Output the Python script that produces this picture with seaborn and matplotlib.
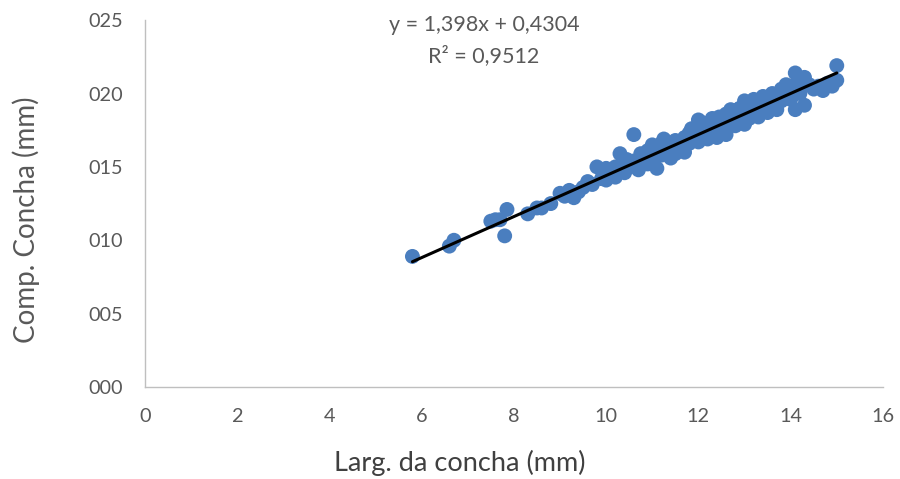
import matplotlib
matplotlib.use("Agg")
import matplotlib.pyplot as plt
from matplotlib.ticker import FuncFormatter
import numpy as np
import pandas as pd
import seaborn as sns

# Shell width (mm) and shell length (mm) for each specimen
largura = [
    5.8, 6.6, 6.7, 7.5, 7.6, 7.7, 7.8, 7.85, 8.3, 8.5, 8.6, 8.8,
    9.0, 9.1, 9.2, 9.3, 9.4, 9.5, 9.6, 9.7, 9.8, 9.9, 10.0, 10.0,
    10.1, 10.2, 10.2, 10.3, 10.4, 10.5, 10.6, 10.6, 10.7, 10.8, 10.9, 10.9,
    11.0, 11.0, 11.1, 11.1, 11.2, 11.2, 11.3, 11.4, 11.4, 11.5, 11.5, 11.6,
    11.7, 11.7, 11.8, 11.8, 11.9, 12.0, 12.0, 12.0, 12.1, 12.1, 12.2, 12.2,
    12.3, 12.3, 12.4, 12.4, 12.5, 12.5, 12.6, 12.6, 12.7, 12.7, 12.8, 12.8,
    12.9, 12.9, 13.0, 13.0, 13.0, 13.1, 13.1, 13.2, 13.2, 13.3, 13.3, 13.4,
    13.4, 13.5, 13.5, 13.6, 13.6, 13.7, 13.7, 13.8, 13.8, 13.9, 13.9, 14.0,
    14.0, 14.1, 14.1, 14.1, 14.2, 14.2, 14.3, 14.3, 14.4, 14.5, 14.6, 14.7,
    14.8, 14.9, 15.0, 15.0,
    10.45, 10.75, 11.25, 11.55, 11.85, 12.15, 12.45, 12.75, 13.05, 13.35,
    13.65, 13.95, 12.25, 12.55, 12.85, 13.15,
]
comprimento = [
    8.9, 9.6, 10.0, 11.3, 11.4, 11.4, 10.3, 12.1, 11.8, 12.2, 12.2, 12.5,
    13.2, 13.0, 13.4, 12.9, 13.3, 13.6, 14.0, 13.8, 15.0, 14.2, 14.9, 14.1,
    14.5, 14.3, 15.0, 15.9, 14.6, 15.0, 17.2, 15.4, 14.8, 15.6, 16.1, 15.2,
    16.5, 15.5, 14.9, 16.2, 15.8, 16.6, 16.0, 16.4, 15.6, 16.8, 15.9, 16.3,
    17.0, 16.0, 16.6, 17.3, 16.9, 17.6, 16.7, 18.2, 17.2, 18.0, 17.5, 16.9,
    18.3, 17.4, 17.8, 17.0, 18.1, 17.5, 18.6, 17.2, 18.0, 18.9, 17.8, 18.5,
    19.0, 18.2, 18.7, 19.5, 17.9, 19.2, 18.3, 19.6, 18.8, 19.0, 18.4, 19.8,
    19.2, 19.4, 18.7, 20.0, 19.1, 19.6, 18.9, 20.3, 19.5, 19.9, 20.6, 20.2,
    19.6, 21.4, 20.6, 18.9, 20.9, 20.0, 21.1, 19.2, 20.6, 20.3, 20.5, 20.2,
    20.7, 20.5, 21.9, 20.9,
    15.5, 15.9, 16.9, 16.5, 17.6, 17.8, 18.4, 18.4, 19.0, 19.4,
    19.8, 20.4, 17.9, 18.3, 18.9, 19.0,
]

# Linear trend line coefficients and fit quality
slope = 1.398
intercept = 0.4304
r2 = 0.9512

x_ticks = list(range(0, 17, 2))
y_ticks = list(range(0, 26, 5))

df = pd.DataFrame({"largura": largura, "comprimento": comprimento})
x_fit = np.array([min(largura), max(largura)])
fit = pd.DataFrame({"x": x_fit, "y": slope * x_fit + intercept})

sns.set_theme(style="white")
plt.rcParams["font.family"] = ["Lato", "DejaVu Sans"]

fig = plt.figure(figsize=(9, 4.79), dpi=100)
ax = fig.add_axes([0.161, 0.192, 0.820, 0.766])

sns.scatterplot(data=df, x="largura", y="comprimento", ax=ax,
                color="#4A7EBF", s=115, edgecolor="none", linewidth=0,
                zorder=2)
sns.lineplot(data=fit, x="x", y="y", ax=ax, color="black", linewidth=2.2,
             zorder=3)

ax.set_xlim(0, 16)
ax.set_ylim(0, 25)
ax.set_xticks(x_ticks)
ax.set_yticks(y_ticks)
ax.yaxis.set_major_formatter(FuncFormatter(lambda v, _: f"{int(round(v)):03d}"))
ax.tick_params(axis="both", length=0, labelsize=14.3, colors="#595959")
ax.tick_params(axis="x", pad=15)
ax.tick_params(axis="y", pad=16)

for side in ("top", "right"):
    ax.spines[side].set_visible(False)
for side in ("left", "bottom"):
    ax.spines[side].set_color("#BFBFBF")
    ax.spines[side].set_linewidth(1.0)

ax.set_xlabel("Larg. da concha (mm)", fontsize=19.5, color="#404040")
ax.set_ylabel("Comp. Concha (mm)", fontsize=20, color="#595959")
ax.xaxis.set_label_coords(0.427, -0.172)
ax.yaxis.set_label_coords(-0.142, 0.455)

eq = f"y = {slope:.3f}x + {intercept:.4f}".replace(".", ",")
r2_txt = f"R² = {r2:.4f}".replace(".", ",")
ax.text(7.35, 24.7, eq, ha="center", va="center", fontsize=15.5, color="#595959")
ax.text(7.35, 22.6, r2_txt, ha="center", va="center", fontsize=15.5, color="#595959")

fig.savefig("out.png", dpi=100)
